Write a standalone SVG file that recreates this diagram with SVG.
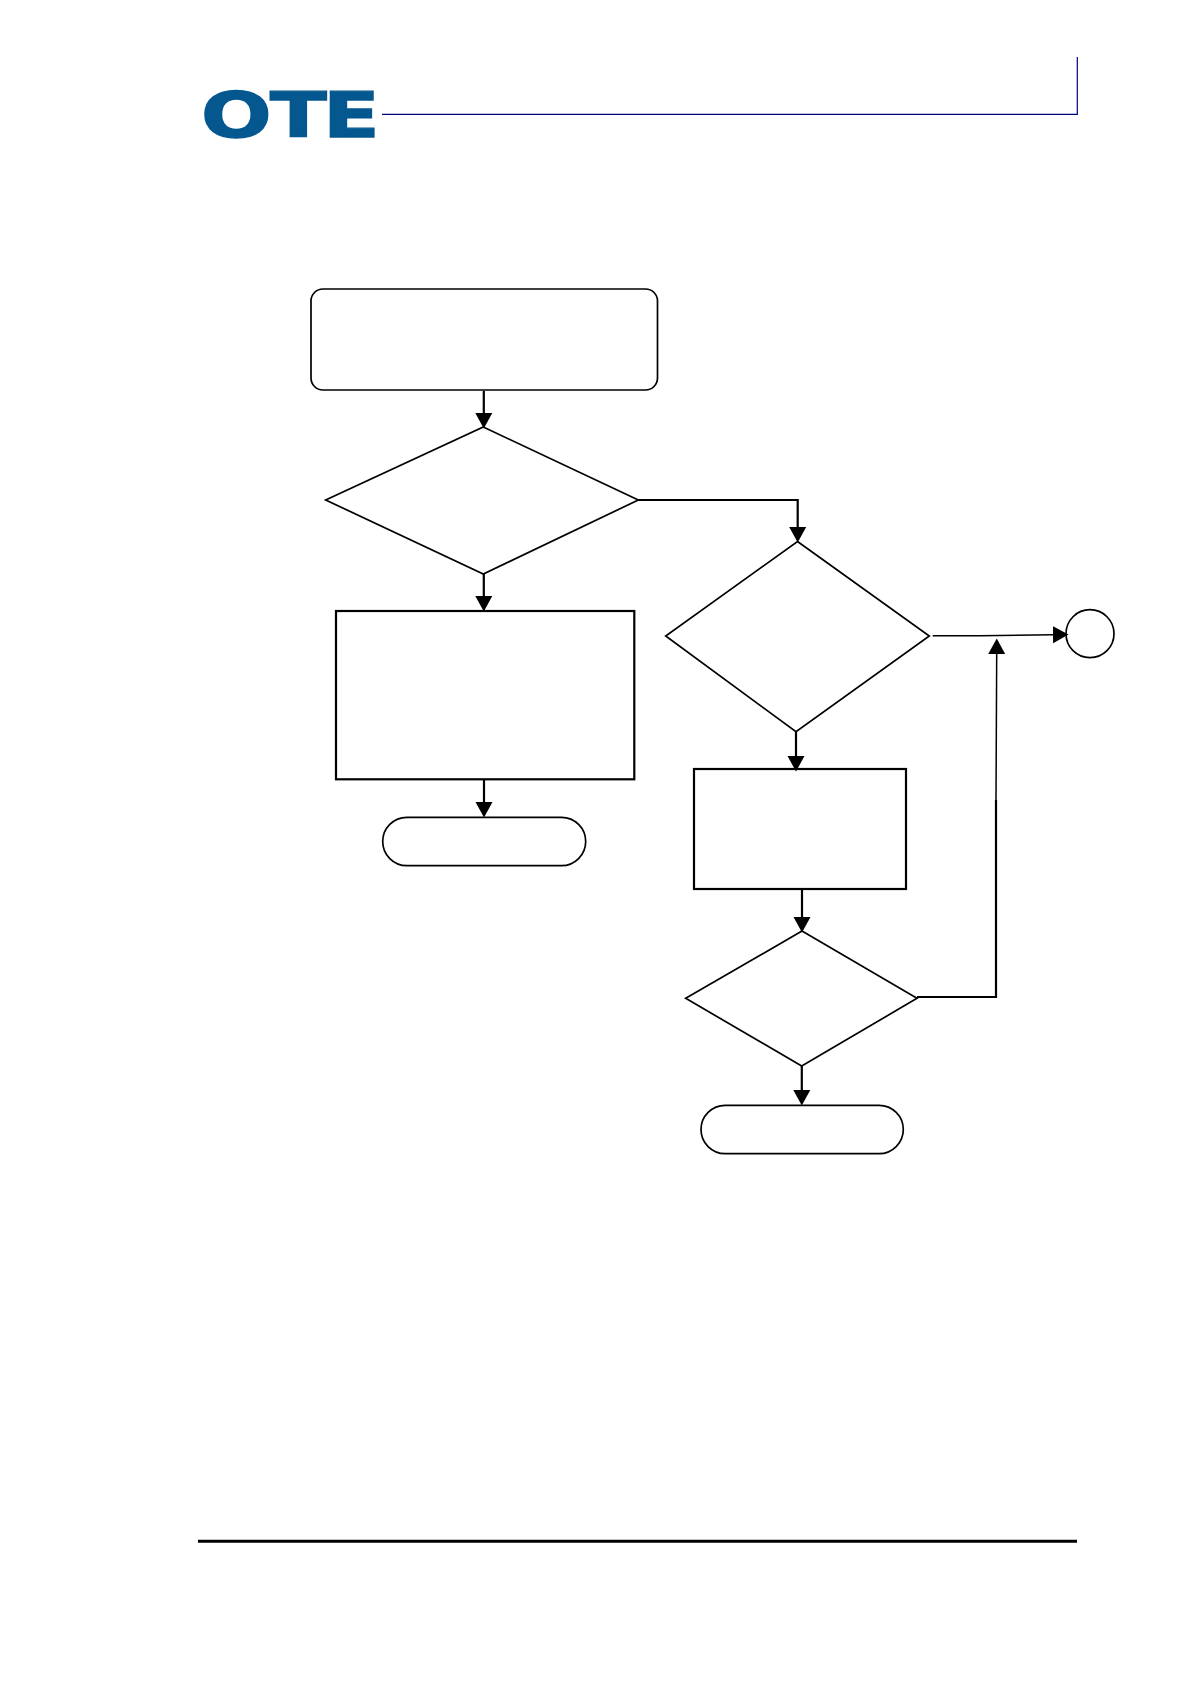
<svg xmlns="http://www.w3.org/2000/svg" width="1190" height="1684" viewBox="0 0 1190 1684">
  <style>
    .node { fill: #fff; stroke: #000; stroke-width: 1.7; }
    .box { fill: #fff; stroke: #000; stroke-width: 2.2; }
    .conn { fill: none; stroke: #000; stroke-width: 2.2; }
    .thin { fill: none; stroke: #000; stroke-width: 1.5; }
    .rule { fill: none; stroke: #000080; stroke-width: 1.2; }
    .logo { font-family: "DejaVu Sans", sans-serif; font-weight: 700; font-size: 63px; fill: #04578f; stroke: #04578f; stroke-width: 1.4; }
  </style>
  <defs>
    <marker id="head" markerUnits="userSpaceOnUse" markerWidth="17" markerHeight="18" refX="0" refY="9" orient="auto">
      <path d="M0 0.5L15.5 9L0 17.5Z" fill="#000"/>
    </marker>
  </defs>
  <rect width="1190" height="1684" fill="#fff"/>

  <g id="header">
    <text class="logo" transform="translate(201 137) scale(1.32 1)" x="0 52.3 92.5" y="0">OTE</text>
    <path class="rule" d="M382 114.3H1077.3V57"/>
  </g>

  <g id="start"><rect class="node" x="311" y="289" width="346.5" height="101" rx="12"/></g>
  <g id="decision-1"><polygon class="node" points="483.3,427 638.3,500 483.3,574 325.7,500"/></g>
  <g id="process-1"><rect class="box" x="336" y="611" width="298.3" height="168.3"/></g>
  <g id="end-1"><rect class="node" x="382.7" y="817.3" width="203" height="48.4" rx="24.2"/></g>
  <g id="decision-2"><polygon class="node" points="797.5,541.5 929.3,636 796,731.8 665.7,636"/></g>
  <g id="process-2"><rect class="box" x="694" y="769" width="212" height="120"/></g>
  <g id="decision-3"><polygon class="node" points="802,931 917,998.3 801.7,1066 685.7,998.3"/></g>
  <g id="end-2"><rect class="node" x="701" y="1105.3" width="202.3" height="48.4" rx="24.2"/></g>
  <g id="connector-circle"><circle class="node" cx="1090" cy="633.7" r="24"/></g>

  <g id="connectors">
    <path class="conn" d="M483.8 391V413" marker-end="url(#head)"/>
    <path class="conn" d="M483.8 574V596" marker-end="url(#head)"/>
    <path class="conn" d="M484 779.5V802" marker-end="url(#head)"/>
    <path class="conn" d="M638.3 500H797.7V527" marker-end="url(#head)"/>
    <path class="conn" d="M796 731.3V756" marker-end="url(#head)"/>
    <path class="conn" d="M802 889V917" marker-end="url(#head)"/>
    <path class="conn" d="M801.8 1065.3V1090" marker-end="url(#head)"/>
    <path class="thin" d="M932.7 635.7H980L1053 634.7" marker-end="url(#head)"/>
    <path class="conn" d="M917 997H996V800"/>
    <path class="thin" d="M996 800L996.7 654" marker-end="url(#head)"/>
  </g>

  <g id="footer"><path d="M198 1541.3H1077" fill="none" stroke="#000" stroke-width="3"/></g>
</svg>
